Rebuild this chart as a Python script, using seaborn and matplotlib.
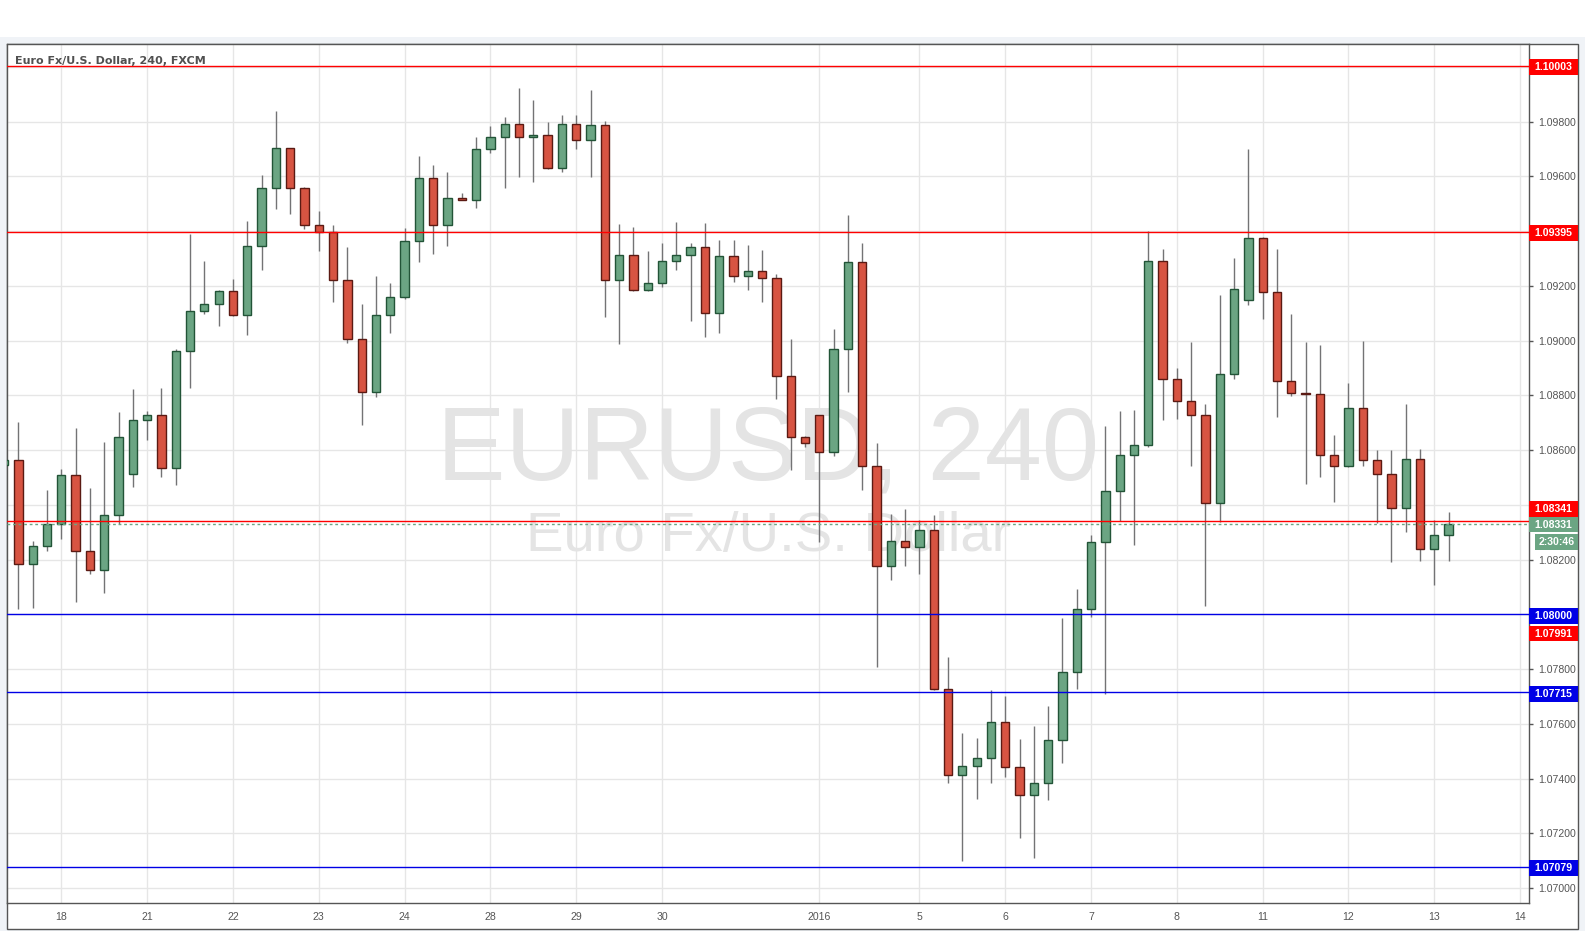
import matplotlib
matplotlib.use('Agg')
import matplotlib.pyplot as plt
import matplotlib.transforms as mtransforms
from matplotlib.patches import Rectangle
import numpy as np
import seaborn as sns

# EUR/USD 240-minute candles (FXCM)
opens = [1.08546, 1.08563, 1.08183, 1.08249, 1.08329, 1.08508, 1.08231, 1.08161, 1.08362, 1.08512,
         1.08709, 1.08727, 1.08534, 1.08961, 1.09107, 1.09133, 1.09180, 1.09092, 1.09344, 1.09556,
         1.09702, 1.09556, 1.09421, 1.09396, 1.09220, 1.09005, 1.08811, 1.09092, 1.09158, 1.09363,
         1.09593, 1.09421, 1.09520, 1.09512, 1.09699, 1.09743, 1.09790, 1.09743, 1.09750, 1.09629,
         1.09790, 1.09732, 1.09786, 1.09220, 1.09312, 1.09184, 1.09209, 1.09290, 1.09312, 1.09341,
         1.09100, 1.09308, 1.09235, 1.09253, 1.09228, 1.08870, 1.08647, 1.08727, 1.08592, 1.08968,
         1.09286, 1.08541, 1.08176, 1.08267, 1.08245, 1.08307, 1.07727, 1.07412, 1.07445, 1.07475,
         1.07606, 1.07442, 1.07339, 1.07383, 1.07540, 1.07789, 1.08019, 1.08263, 1.08450, 1.08581,
         1.08618, 1.09290, 1.08859, 1.08778, 1.08727, 1.08406, 1.08877, 1.09147, 1.09374, 1.09176,
         1.08851, 1.08808, 1.08804, 1.08581, 1.08541, 1.08753, 1.08563, 1.08512, 1.08388, 1.08567,
         1.08238, 1.08289]
highs = [1.08579, 1.08703, 1.08268, 1.08454, 1.08531, 1.08681, 1.08462, 1.08630, 1.08739, 1.08823,
         1.08743, 1.08827, 1.08969, 1.09389, 1.09291, 1.09185, 1.09225, 1.09437, 1.09605, 1.09839,
         1.09702, 1.09561, 1.09473, 1.09422, 1.09342, 1.09134, 1.09236, 1.09210, 1.09411, 1.09674,
         1.09641, 1.09616, 1.09538, 1.09744, 1.09784, 1.09817, 1.09923, 1.09879, 1.09798, 1.09824,
         1.09824, 1.09915, 1.09801, 1.09426, 1.09415, 1.09327, 1.09357, 1.09433, 1.09357, 1.09430,
         1.09367, 1.09367, 1.09349, 1.09331, 1.09242, 1.09006, 1.08650, 1.08730, 1.09042, 1.09459,
         1.09357, 1.08626, 1.08367, 1.08385, 1.08345, 1.08362, 1.07844, 1.07567, 1.07549, 1.07723,
         1.07701, 1.07544, 1.07592, 1.07664, 1.07986, 1.08092, 1.08290, 1.08687, 1.08743, 1.08747,
         1.09399, 1.09334, 1.08899, 1.08994, 1.08767, 1.09166, 1.09301, 1.09698, 1.09380, 1.09334,
         1.09096, 1.08994, 1.08983, 1.08654, 1.08844, 1.08998, 1.08599, 1.08599, 1.08767, 1.08603,
         1.08344, 1.08373]
lows = [1.08535, 1.08021, 1.08025, 1.08233, 1.08275, 1.08045, 1.08149, 1.08079, 1.08329, 1.08466,
        1.08638, 1.08503, 1.08474, 1.08828, 1.09096, 1.09054, 1.09090, 1.09022, 1.09259, 1.09482,
        1.09464, 1.09409, 1.09328, 1.09142, 1.08992, 1.08693, 1.08795, 1.09029, 1.09152, 1.09288,
        1.09317, 1.09347, 1.09512, 1.09485, 1.09686, 1.09559, 1.09599, 1.09580, 1.09625, 1.09617,
        1.09701, 1.09599, 1.09087, 1.08989, 1.09180, 1.09182, 1.09195, 1.09259, 1.09073, 1.09014,
        1.09029, 1.09215, 1.09186, 1.09142, 1.08788, 1.08526, 1.08610, 1.08266, 1.08580, 1.08813,
        1.08453, 1.07807, 1.08125, 1.08176, 1.08147, 1.07723, 1.07385, 1.07100, 1.07327, 1.07385,
        1.07407, 1.07185, 1.07109, 1.07323, 1.07458, 1.07727, 1.07990, 1.07708, 1.08341, 1.08255,
        1.08610, 1.08711, 1.08715, 1.08543, 1.08029, 1.08336, 1.08859, 1.09129, 1.09078, 1.08720,
        1.08797, 1.08475, 1.08501, 1.08410, 1.08538, 1.08541, 1.08333, 1.08193, 1.08302, 1.08196,
        1.08108, 1.08196]
closes = [1.08564, 1.08183, 1.08249, 1.08329, 1.08508, 1.08231, 1.08161, 1.08362, 1.08647, 1.08709,
          1.08727, 1.08534, 1.08961, 1.09107, 1.09133, 1.09180, 1.09092, 1.09344, 1.09556, 1.09702,
          1.09556, 1.09421, 1.09396, 1.09220, 1.09005, 1.08811, 1.09092, 1.09158, 1.09363, 1.09593,
          1.09421, 1.09520, 1.09512, 1.09699, 1.09743, 1.09790, 1.09743, 1.09750, 1.09629, 1.09790,
          1.09732, 1.09786, 1.09220, 1.09312, 1.09184, 1.09209, 1.09290, 1.09312, 1.09341, 1.09100,
          1.09308, 1.09235, 1.09253, 1.09228, 1.08870, 1.08647, 1.08625, 1.08592, 1.08968, 1.09286,
          1.08541, 1.08176, 1.08267, 1.08245, 1.08307, 1.07727, 1.07412, 1.07445, 1.07475, 1.07606,
          1.07442, 1.07339, 1.07383, 1.07540, 1.07789, 1.08019, 1.08263, 1.08450, 1.08581, 1.08618,
          1.09290, 1.08859, 1.08778, 1.08727, 1.08406, 1.08877, 1.09187, 1.09374, 1.09176, 1.08851,
          1.08808, 1.08804, 1.08581, 1.08541, 1.08753, 1.08563, 1.08512, 1.08388, 1.08567, 1.08238,
          1.08289, 1.08331]

# session labels on the time axis (bar index of the first bar of each day)
day_labels = ['18', '21', '22', '23', '24', '28', '29', '30', '2016', '5', '6', '7', '8', '11', '12', '13', '14']
day_bars = [4, 10, 16, 22, 28, 34, 40, 46, 57, 64, 70, 76, 82, 88, 94, 100, 106]

# drawn support / resistance levels
red_levels = [1.10003, 1.09395, 1.08341]
blue_levels = [1.08000, 1.07715, 1.07079]
last_price = 1.08331
countdown = '2:30:46'
yticks = [1.070, 1.072, 1.074, 1.076, 1.078, 1.080, 1.082, 1.084, 1.086, 1.088, 1.090, 1.092, 1.094,
          1.096, 1.098, 1.100]
hidden_ticks = [1.080, 1.084, 1.094, 1.100]

sns.set_style('white')
plt.rcParams['font.family'] = ['DejaVu Sans']

W, H = 1585, 931
fig = plt.figure(figsize=(W / 100, H / 100), dpi=100, facecolor='#f0f3f7')

# white top strip and white chart frame (behind the axes)
fig.patches.append(Rectangle((0, 1 - 37 / H), 1, 37 / H, transform=fig.transFigure,
                             facecolor='white', edgecolor='none', zorder=-10))
fig.patches.append(Rectangle((6.7 / W, 1 - 929 / H), (1578.3 - 6.7) / W, (929 - 43.5) / H,
                             transform=fig.transFigure, facecolor='white', edgecolor='#555555',
                             linewidth=1, zorder=-10))

ax = fig.add_axes([6.7 / W, 1 - 902.7 / H, (1528.7 - 6.7) / W, (902.7 - 43.5) / H])
ax.set_zorder(5)
ax.set_facecolor('white')
ax.set_xlim(0.18, 106.6)
ax.set_ylim(1.06947, 1.10085)

x = np.arange(len(opens))
o = np.array(opens)
c = np.array(closes)
up = c >= o

# wicks
ax.vlines(x, lows, highs, color='#737375', linewidth=1, zorder=3)
# bodies
bottoms = np.minimum(o, c)
heights = np.maximum(np.abs(c - o), 0.00004)
ax.bar(x[up], heights[up], bottom=bottoms[up], width=0.58, color='#6ba583',
       edgecolor='#225437', linewidth=1, zorder=4)
ax.bar(x[~up], heights[~up], bottom=bottoms[~up], width=0.58, color='#d75442',
       edgecolor='#5b1a13', linewidth=1, zorder=4)

# horizontal levels
for lv in red_levels:
    ax.axhline(lv, color='#ff0000', linewidth=1, zorder=5)
for lv in blue_levels:
    ax.axhline(lv, color='#0000e6', linewidth=1, zorder=5)
ax.axhline(last_price, color='#6ba583', linewidth=1, linestyle=(0, (2, 2)), zorder=5)

# watermark
ax.text(0.5002, 0.492, 'EURUSD, 240', transform=ax.transAxes, ha='center', va='baseline',
        fontsize=74, color='#e4e4e4', family='Liberation Sans', zorder=1)
ax.text(0.5002, 0.4093, 'Euro Fx/U.S. Dollar', transform=ax.transAxes, ha='center', va='baseline',
        fontsize=40.5, color='#e4e4e4', family='Liberation Sans', zorder=1)

# title
ax.text(0.0055, 0.9802, 'Euro Fx/U.S. Dollar, 240, FXCM', transform=ax.transAxes, ha='left',
        va='center', fontsize=8.0, fontweight='bold', color='#505050', zorder=6)

# axes styling
ax.grid(True, color='#e6e6e6', linewidth=1, zorder=0)
ax.set_axisbelow(True)
for s in ax.spines.values():
    s.set_color('#555555')
    s.set_linewidth(1)

ax.yaxis.tick_right()
ax.set_yticks(yticks)
ax.set_yticklabels(['' if any(abs(t - h) < 1e-9 for h in hidden_ticks) else f'{t:.5f}' for t in yticks])
ax.set_xticks(day_bars)
ax.set_xticklabels(day_labels)
ax.tick_params(axis='y', direction='out', length=3, width=1, color='#555555', pad=4,
               labelsize=7.6, labelcolor='#555555')
ax.tick_params(axis='x', direction='out', length=3, width=1, color='#555555', pad=4,
               labelsize=7.6, labelcolor='#555555')
for lab in ax.get_xticklabels() + ax.get_yticklabels():
    lab.set_family('Liberation Sans')

# price tags on the right scale
px_to_data = (1.10085 - 1.06947) / (902.7 - 43.5)
box_h = 15.5 * px_to_data
box_w = (1578.3 - 1528.7) / (1528.7 - 6.7)
tag_trans = mtransforms.blended_transform_factory(ax.transAxes, ax.transData)


def price_tag(value, text, color, shift_px=0.0, x0=1.0, w=box_w):
    yc = value + shift_px * px_to_data
    ax.add_patch(Rectangle((x0, yc - box_h / 2), w, box_h, transform=tag_trans,
                           facecolor=color, edgecolor='none', clip_on=False, zorder=10))
    ax.text(x0 + w / 2, yc, text, transform=tag_trans, ha='center', va='center',
            fontsize=7.6, fontweight='bold', color='white', family='Liberation Sans',
            clip_on=False, zorder=11)


price_tag(1.10003, '1.10003', '#ff0000', -1.0)
price_tag(1.09395, '1.09395', '#ff0000', -0.6)
price_tag(1.08341, '1.08341', '#ff0000', 12.2)
price_tag(last_price, '1.08331', '#6ba583', -0.9)
price_tag(last_price, countdown, '#6ba583', -18.0, x0=(1535 - 6.7) / 1522, w=(1577.7 - 1535) / 1522)
price_tag(1.08000, '1.08000', '#0000e6', -1.4)
price_tag(1.07991, '1.07991', '#ff0000', -16.8)
price_tag(1.07715, '1.07715', '#0000e6', -1.4)
price_tag(1.07079, '1.07079', '#0000e6', -1.4)

fig.savefig('out.png', dpi=100, facecolor=fig.get_facecolor())
